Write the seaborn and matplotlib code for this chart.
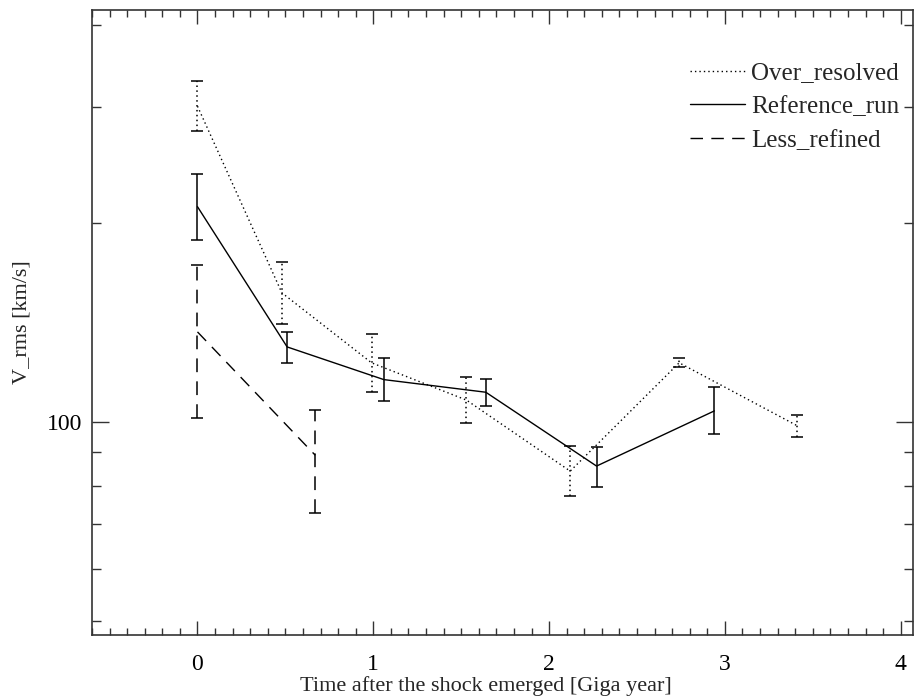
import numpy as np
import pandas as pd
import matplotlib
matplotlib.use("Agg")
import matplotlib.pyplot as plt
import seaborn as sns
from matplotlib.ticker import NullFormatter

# Values (time in Gyr, V_rms in km/s)
over_t = [0.0, 0.48, 0.99, 1.53, 2.12, 2.74, 3.41]
over_v = [301, 157, 123, 108, 84.3, 123, 98.8]
over_lo = [276, 141, 111, 99.7, 77.3, 121, 95.0]
over_hi = [329, 175, 136, 117, 92.0, 125, 102.5]

ref_t = [0.0, 0.51, 1.06, 1.64, 2.27, 2.94]
ref_v = [212, 130, 116, 111, 85.8, 104]
ref_lo = [189, 123, 107.6, 105.7, 79.7, 95.9]
ref_hi = [238, 137, 125, 116.2, 91.6, 113]

less_t = [0.0, 0.67]
less_v = [137, 89.1]
less_lo = [101.4, 72.8]
less_hi = [173, 104.3]

series_names = ["Over_resolved", "Reference_run", "Less_refined"]
x_ticks = [0, 1, 2, 3, 4]

sns.set_style("ticks")
plt.rcParams["font.family"] = ["Liberation Serif", "DejaVu Serif"]

fig = plt.figure(figsize=(9.16, 7), dpi=100)
ax = fig.add_axes([92 / 916, 1 - 635 / 700, (913 - 92) / 916, (635 - 10) / 700])

styles = {
    "Over_resolved": (0, (1, 2.2)),
    "Reference_run": "-",
    "Less_refined": (0, (9, 6)),
}
data = {
    "Over_resolved": (over_t, over_v, over_lo, over_hi),
    "Reference_run": (ref_t, ref_v, ref_lo, ref_hi),
    "Less_refined": (less_t, less_v, less_lo, less_hi),
}

for name in series_names:
    t, v, lo, hi = data[name]
    df = pd.DataFrame({"t": t, "v": v})
    sns.lineplot(data=df, x="t", y="v", ax=ax, color="black", lw=1,
                 linestyle=styles[name], label=name, sort=False)
    yerr = [np.array(v) - np.array(lo), np.array(hi) - np.array(v)]
    eb = ax.errorbar(t, v, yerr=yerr, fmt="none", ecolor="black",
                     elinewidth=1.1, capsize=4.5, capthick=1.1)
    eb[2][0].set_linestyle(styles[name])

ax.set_yscale("log")
ax.set_xlim(-0.6, 4.07)
ax.set_ylim(47.6, 421)

ax.set_xticks(x_ticks)
ax.set_xticklabels([str(x) for x in x_ticks])
ax.set_xticks(np.arange(-0.6, 4.05, 0.1), minor=True)
ax.set_yticks([100])
ax.set_yticklabels(["100"])
ax.set_yticks([50, 60, 70, 80, 90, 200, 300, 400], minor=True)
ax.yaxis.set_minor_formatter(NullFormatter())

ax.tick_params(which="both", direction="in", top=True, right=True,
               colors="#333333", labelcolor="black", labelsize=17, width=1)
ax.tick_params(axis="x", which="major", length=10, pad=13.5)
ax.tick_params(axis="x", which="minor", length=5)
ax.tick_params(axis="y", which="major", length=12, pad=7)
ax.tick_params(axis="y", which="minor", length=6.5)
for s in ax.spines.values():
    s.set_color("#333333")
    s.set_linewidth(1.2)

ax.set_xlabel("Time after the shock emerged [Giga year]", fontsize=16)
ax.xaxis.set_label_coords((486 - 92) / 821, (635 - 686) / 625)
ax.xaxis.label.set_va("center")
ax.set_ylabel("V_rms [km/s]", fontsize=16)
ax.yaxis.set_label_coords((22 - 92) / 821, 0.5)
ax.yaxis.label.set_va("center")

leg = ax.legend(loc="upper left", bbox_to_anchor=(0.728, 0.917), frameon=False,
                fontsize=18, handlelength=2.2, handletextpad=0.25,
                labelspacing=0.45, borderpad=0, borderaxespad=0)

fig.savefig("out.png", dpi=100)
